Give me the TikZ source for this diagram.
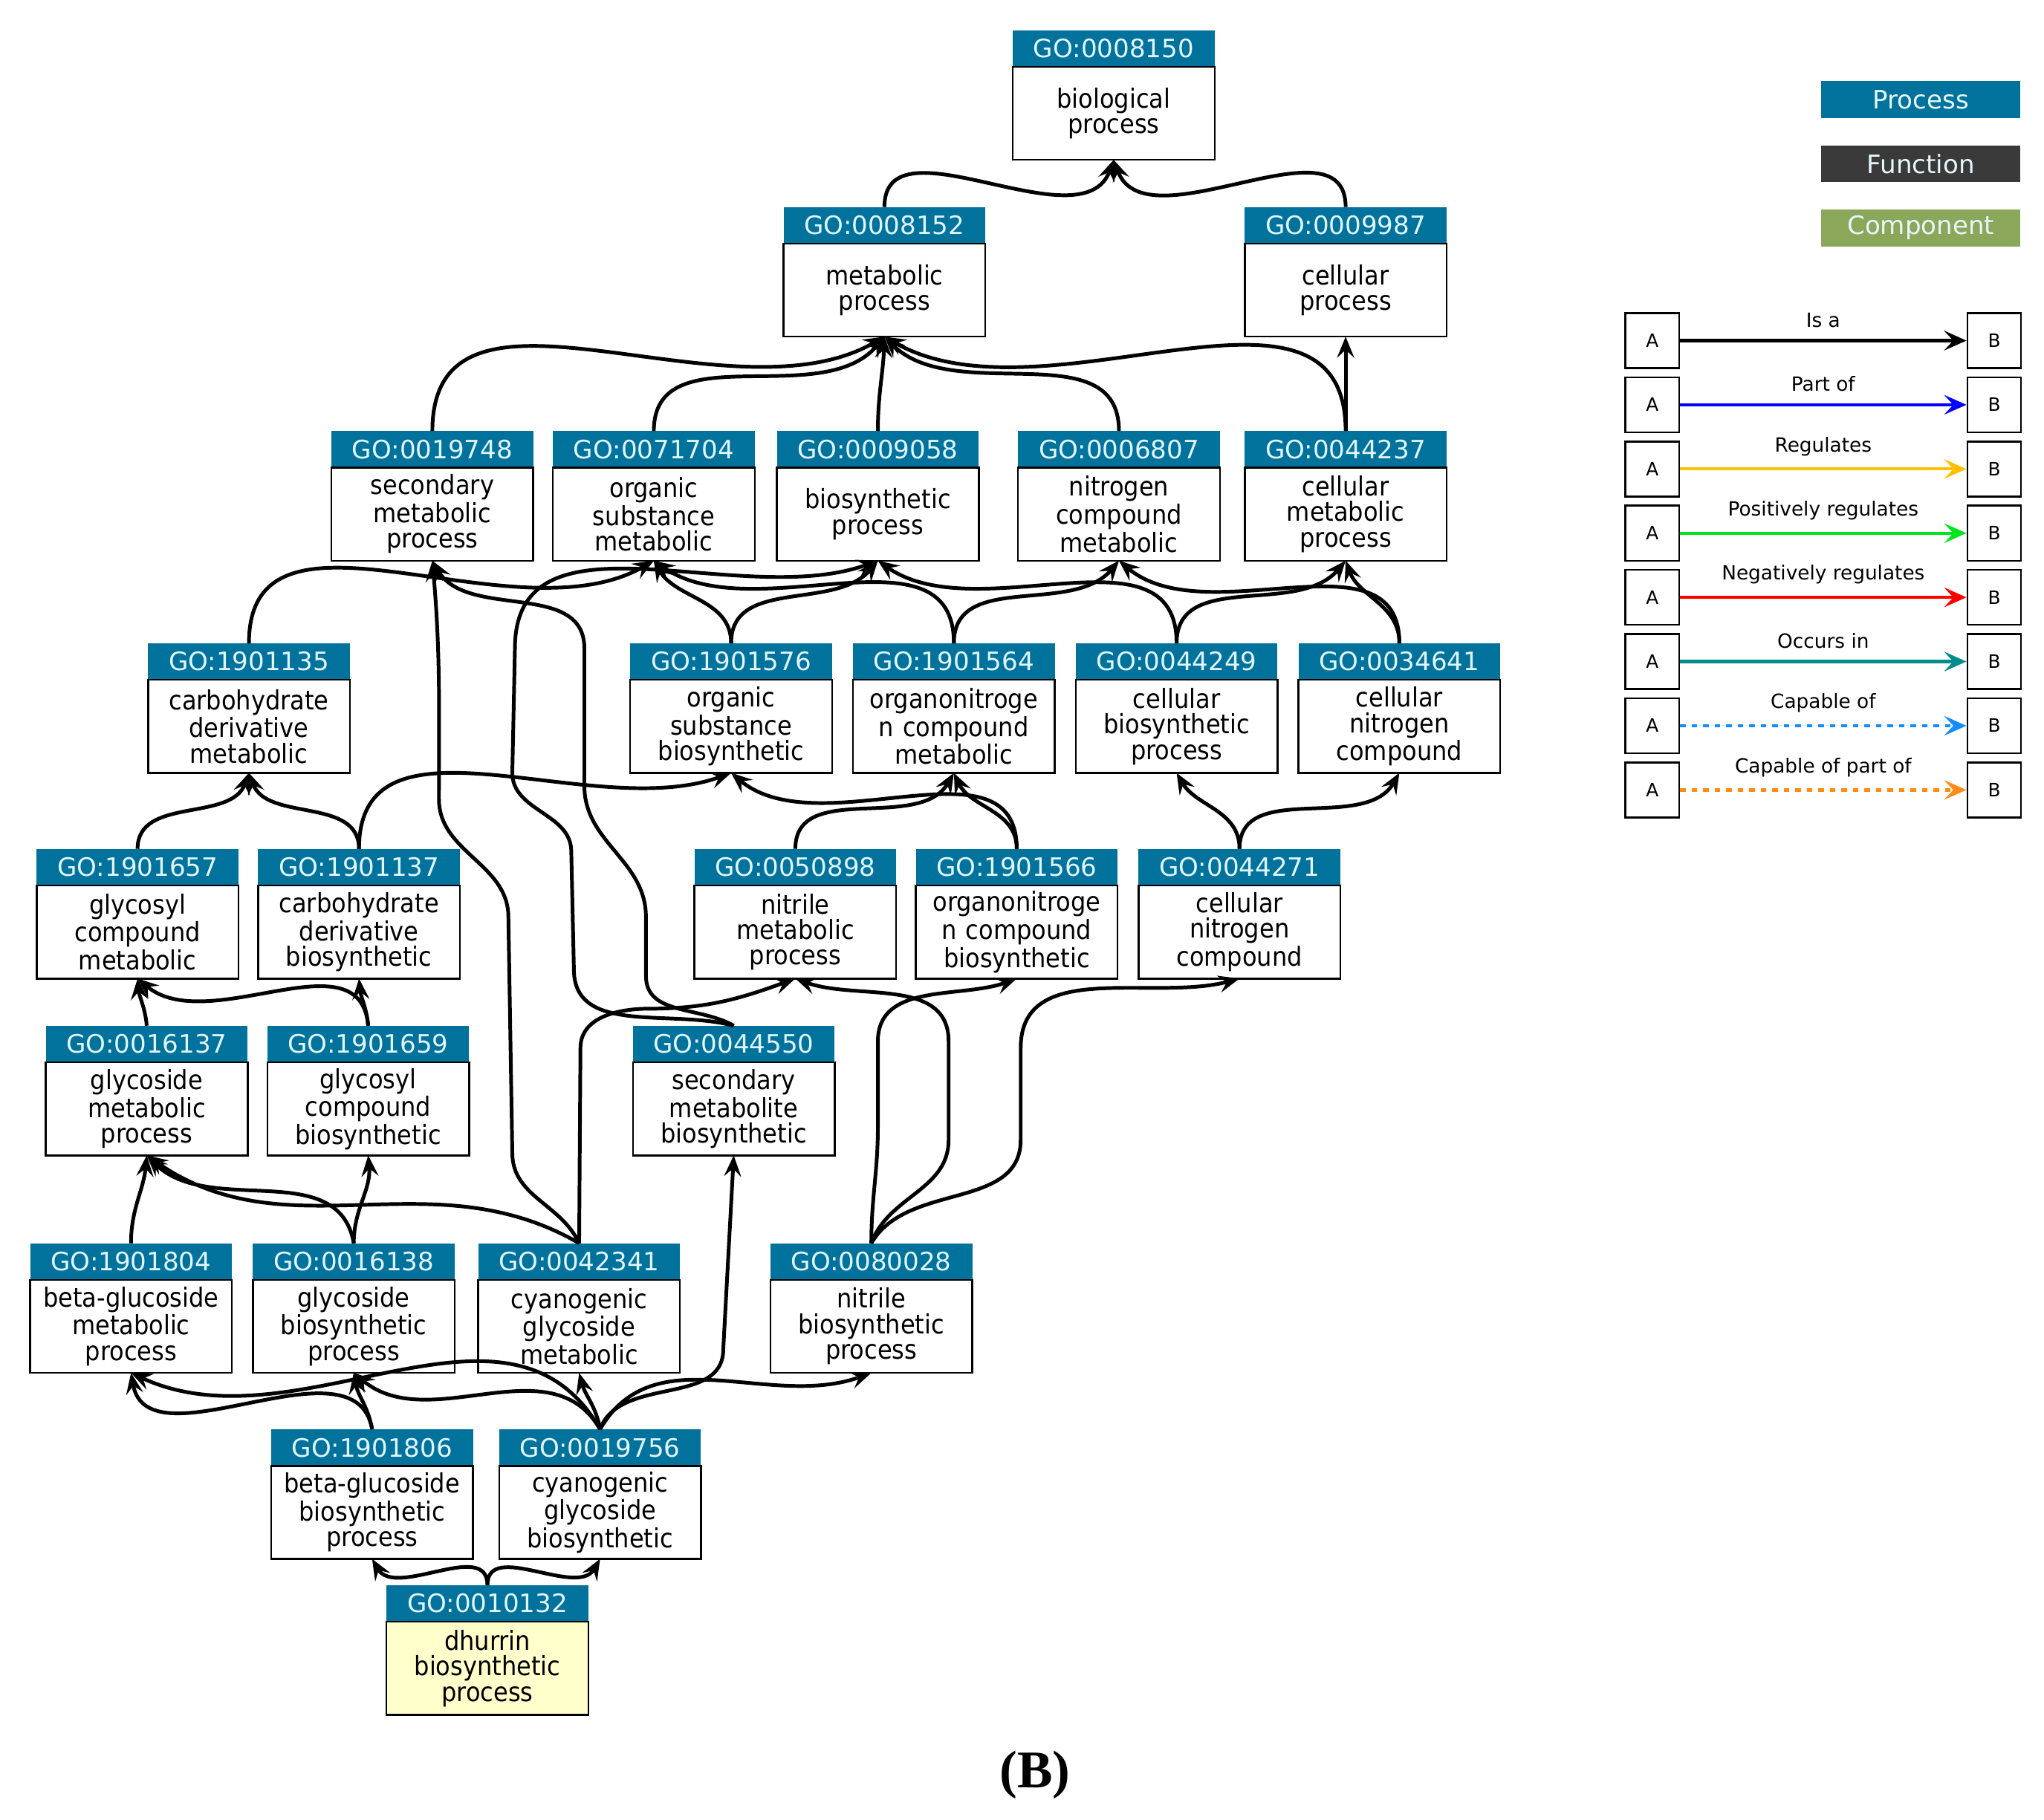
\documentclass[tikz,border=0pt]{standalone}
\usepackage{fontspec}
\setmainfont{DejaVu Sans}
\newfontfamily\condfont{DejaVu Sans Condensed}
\newfontfamily\capfont{Liberation Serif}
\usetikzlibrary{arrows.meta,positioning}
\definecolor{gohead}{RGB}{0,114,155}
\definecolor{goyellow}{RGB}{255,255,204}
\definecolor{fundark}{RGB}{58,58,58}
\definecolor{compgreen}{RGB}{139,168,90}
\definecolor{regyellow}{RGB}{255,192,0}
\definecolor{posgreen}{RGB}{0,230,30}
\definecolor{occteal}{RGB}{0,140,140}
\definecolor{capblue}{RGB}{20,140,255}
\definecolor{caporange}{RGB}{255,140,20}

\begin{document}
\begin{tikzpicture}
[x=0.2mm, y=-0.2mm,
% STYLES
header/.style={rectangle, fill=gohead, text=white!88!cyan, minimum width=30.8mm, minimum height=5.6mm, inner sep=0pt, outer sep=0pt, anchor=north, font=\fontsize{11}{12}\selectfont},
term/.style={rectangle, draw, line width=0.8pt, fill=white, minimum width=30.8mm, minimum height=14.2mm, text width=30.4mm, align=center, inner sep=0pt, outer sep=0pt, font=\condfont\fontsize{11.5}{11.1}\selectfont},
target/.style={fill=goyellow},
isa/.style={line width=1.6pt, -{Stealth[length=3.2mm, width=2.6mm, inset=1.2mm]}},
ontology/.style={rectangle, minimum width=30.4mm, minimum height=5.6mm, inner sep=0pt, text=white!90!cyan, font=\fontsize{11}{12}\selectfont},
legbox/.style={rectangle, draw, line width=0.8pt, minimum width=8.2mm, minimum height=8.4mm, inner sep=0pt, font=\fontsize{8}{9}\selectfont},
leglabel/.style={font=\fontsize{8.5}{9}\selectfont, above=0.6mm, midway, text=black},
legarrow/.style={line width=1.4pt, -{Stealth[length=3.4mm, width=3mm, inset=1.4mm]}},
solidline/.style={solid},
dottedline/.style={dash pattern=on 2.5pt off 2.5pt}]

\useasboundingbox (0,0) rectangle (1560,1389);

% row 1
\node [header] (h0008150) at (850,23) {GO:0008150};
\node [term, below=0pt of h0008150] (t0008150) {biological\\process};
% row 2
\node [header] (h0008152) at (675,158) {GO:0008152};
\node [term, below=0pt of h0008152] (t0008152) {metabolic\\process};
\node [header] (h0009987) at (1027,158) {GO:0009987};
\node [term, below=0pt of h0009987] (t0009987) {cellular\\process};
% row 3
\node [header] (h0019748) at (330,329) {GO:0019748};
\node [term, below=0pt of h0019748] (t0019748) {secondary\\metabolic\\process};
\node [header] (h0071704) at (499,329) {GO:0071704};
\node [term, below=0pt of h0071704] (t0071704) {organic\\substance\\metabolic};
\node [header] (h0009058) at (670,329) {GO:0009058};
\node [term, below=0pt of h0009058] (t0009058) {biosynthetic\\process};
\node [header] (h0006807) at (854,329) {GO:0006807};
\node [term, below=0pt of h0006807] (t0006807) {nitrogen\\compound\\metabolic};
\node [header] (h0044237) at (1027,329) {GO:0044237};
\node [term, below=0pt of h0044237] (t0044237) {cellular\\metabolic\\process};
% row 4
\node [header] (h1901135) at (190,491) {GO:1901135};
\node [term, below=0pt of h1901135] (t1901135) {carbohydrate\\derivative\\metabolic};
\node [header] (h1901576) at (558,491) {GO:1901576};
\node [term, below=0pt of h1901576] (t1901576) {organic\\substance\\biosynthetic};
\node [header] (h1901564) at (728,491) {GO:1901564};
\node [term, below=0pt of h1901564] (t1901564) {organonitroge\\n compound\\metabolic};
\node [header] (h0044249) at (898,491) {GO:0044249};
\node [term, below=0pt of h0044249] (t0044249) {cellular\\biosynthetic\\process};
\node [header] (h0034641) at (1068,491) {GO:0034641};
\node [term, below=0pt of h0034641] (t0034641) {cellular\\nitrogen\\compound};
% row 5
\node [header] (h1901657) at (105,648) {GO:1901657};
\node [term, below=0pt of h1901657] (t1901657) {glycosyl\\compound\\metabolic};
\node [header] (h1901137) at (274,648) {GO:1901137};
\node [term, below=0pt of h1901137] (t1901137) {carbohydrate\\derivative\\biosynthetic};
\node [header] (h0050898) at (607,648) {GO:0050898};
\node [term, below=0pt of h0050898] (t0050898) {nitrile\\metabolic\\process};
\node [header] (h1901566) at (776,648) {GO:1901566};
\node [term, below=0pt of h1901566] (t1901566) {organonitroge\\n compound\\biosynthetic};
\node [header] (h0044271) at (946,648) {GO:0044271};
\node [term, below=0pt of h0044271] (t0044271) {cellular\\nitrogen\\compound};
% row 6
\node [header] (h0016137) at (112,783) {GO:0016137};
\node [term, below=0pt of h0016137] (t0016137) {glycoside\\metabolic\\process};
\node [header] (h1901659) at (281,783) {GO:1901659};
\node [term, below=0pt of h1901659] (t1901659) {glycosyl\\compound\\biosynthetic};
\node [header] (h0044550) at (560,783) {GO:0044550};
\node [term, below=0pt of h0044550] (t0044550) {secondary\\metabolite\\biosynthetic};
% row 7
\node [header] (h1901804) at (100,949) {GO:1901804};
\node [term, below=0pt of h1901804] (t1901804) {beta-glucoside\\metabolic\\process};
\node [header] (h0016138) at (270,949) {GO:0016138};
\node [term, below=0pt of h0016138] (t0016138) {glycoside\\biosynthetic\\process};
\node [header] (h0042341) at (442,949) {GO:0042341};
\node [term, below=0pt of h0042341] (t0042341) {cyanogenic\\glycoside\\metabolic};
\node [header] (h0080028) at (665,949) {GO:0080028};
\node [term, below=0pt of h0080028] (t0080028) {nitrile\\biosynthetic\\process};
% row 8
\node [header] (h1901806) at (284,1091) {GO:1901806};
\node [term, below=0pt of h1901806] (t1901806) {beta-glucoside\\biosynthetic\\process};
\node [header] (h0019756) at (458,1091) {GO:0019756};
\node [term, below=0pt of h0019756] (t0019756) {cyanogenic\\glycoside\\biosynthetic};
% row 9
\node [header] (h0010132) at (372,1210) {GO:0010132};
\node [term, target, below=0pt of h0010132] (t0010132) {dhurrin\\biosynthetic\\process};

%%%%%%%%%%%%%%%% is_a edges

\draw[isa] (h0008152.north) to[out=90,in=-110] (t0008150.south);
\draw[isa] (h0009987.north) to[out=90,in=-70] (t0008150.south);
\draw[isa] (h0019748.north) to[out=90,in=-150] (t0008152.south);
\draw[isa] (h0071704.north) to[out=90,in=-130] (t0008152.south);
\draw[isa] (h0009058.north) to[out=90,in=-92] (t0008152.south);
\draw[isa] (h0006807.north) to[out=90,in=-45] (t0008152.south);
\draw[isa] (h0044237.north) to[out=90,in=-30] (t0008152.south);
\draw[isa] (h0044237.north) -- (t0009987.south);

\draw[isa] (h1901135.north) to[out=90,in=-150] (t0071704.south);
\draw[isa] (h1901576.north) to[out=90,in=-60] (t0071704.south);
\draw[isa] (h1901576.north) to[out=90,in=-130] (t0009058.south);
\draw[isa] (h1901564.north) to[out=90,in=-35] (t0071704.south);
\draw[isa] (h1901564.north) to[out=90,in=-130] (t0006807.south);
\draw[isa] (h0044249.north) to[out=90,in=-35] (t0009058.south);
\draw[isa] (h0044249.north) to[out=90,in=-130] (t0044237.south);
\draw[isa] (h0034641.north) to[out=90,in=-40] (t0006807.south);
\draw[isa] (h0034641.north) to[out=90,in=-70] (t0044237.south);

\draw[isa] (h1901657.north) to[out=90,in=-110] (t1901135.south);
\draw[isa] (h1901137.north) to[out=90,in=-70] (t1901135.south);
\draw[isa] (h1901137.north) to[out=90,in=-160] (t1901576.south);
\draw[isa] (h0050898.north) to[out=90,in=-120] (t1901564.south);
\draw[isa] (h1901566.north) to[out=90,in=-40] (t1901576.south);
\draw[isa] (h1901566.north) to[out=90,in=-65] (t1901564.south);
\draw[isa] (h0044271.north) to[out=90,in=-60] (t0044249.south);
\draw[isa] (h0044271.north) to[out=90,in=-120] (t0034641.south);

\draw[isa] (h0016137.north) to[out=95,in=-85] (t1901657.south);
\draw[isa] (h1901659.north) to[out=95,in=-40] (t1901657.south);
\draw[isa] (h1901659.north) to[out=95,in=-85] (t1901137.south);

% long routes through the middle
\draw[isa] (h0044550.north) to[out=150,in=-90] (493,745) -- (493,700) to[out=90,in=-90] (446,600) -- (446,495) to[out=90,in=-60] (t0019748.south);
\draw[isa] (h0044550.north) to[out=165,in=-90] (438,740) -- (436,650) to[out=90,in=-90] (391,590) -- (393,495) to[out=90,in=-160] (t0009058.south);
\draw[isa] (h0042341.north) to[out=115,in=-90] (391,880) -- (388,700) to[out=90,in=-90] (335,610) to[out=90,in=-85] (t0019748.south);
\draw[isa] (h0042341.north) -- (443,800) to[out=90,in=180] (495,770) to[out=0,in=-160] (t0050898.south);
\draw[isa] (h0080028.north) to[out=90,in=-90] (670,860) -- (670,795) to[out=90,in=-160] (t1901566.south);
\draw[isa] (h0080028.north) to[out=70,in=-90] (724,870) -- (724,795) to[out=90,in=-20] (t0050898.south);
\draw[isa] (h0080028.north) to[out=60,in=-90] (779,870) -- (779,800) to[out=90,in=-165] (t0044271.south);

\draw[isa] (h1901804.north) to[out=90,in=-95] (t0016137.south);
\draw[isa] (h0016138.north) to[out=100,in=-45] (t0016137.south);
\draw[isa] (h0016138.north) to[out=90,in=-85] (t1901659.south);
\draw[isa] (h0042341.north) to[out=150,in=-35] (t0016137.south);

\draw[isa] (h1901806.north) to[out=100,in=-80] (t1901804.south);
\draw[isa] (h1901806.north) to[out=100,in=-80] (t0016138.south);
\draw[isa] (h0019756.north) to[out=120,in=-25] (t1901804.south);
\draw[isa] (h0019756.north) to[out=120,in=-40] (t0016138.south);
\draw[isa] (h0019756.north) to[out=100,in=-75] (t0042341.south);
\draw[isa] (h0019756.north) to[out=70,in=-90] (552,1030) -- (t0044550.south);
\draw[isa] (h0019756.north) to[out=60,in=-160] (t0080028.south);

\draw[isa] (h0010132.north) to[out=90,in=-60] (t1901806.south);
\draw[isa] (h0010132.north) to[out=90,in=-120] (t0019756.south);

%%%%%%%%%%% legend

\node [ontology, fill=gohead] (process) at (1466,76) {Process};
\node [ontology, fill=fundark] (function) at (1466,125) {Function};
\node [ontology, fill=compgreen] (component) at (1466,174) {Component};

\foreach \name/\lab/\col/\kind [count=\i] in {isa/Is a/black/solidline, partof/Part of/blue/solidline, reg/Regulates/regyellow/solidline, posreg/Positively regulates/posgreen/solidline, negreg/Negatively regulates/red/solidline, occurs/Occurs in/occteal/solidline, capable/Capable of/capblue/dottedline, capablepart/Capable of part of/caporange/dottedline} {
  \node [legbox] (a-\name) at (1261,211+49*\i) {A};
  \node [legbox] (b-\name) at (1522,211+49*\i) {B};
  \draw [legarrow, draw=\col, fill=\col, \kind] (a-\name.east) -- node[leglabel] {\lab} (b-\name.west);
}

\node [font=\capfont\fontsize{23}{25}\selectfont\bfseries] (caption) at (790,1355) {(B)};

\end{tikzpicture}
\end{document}
